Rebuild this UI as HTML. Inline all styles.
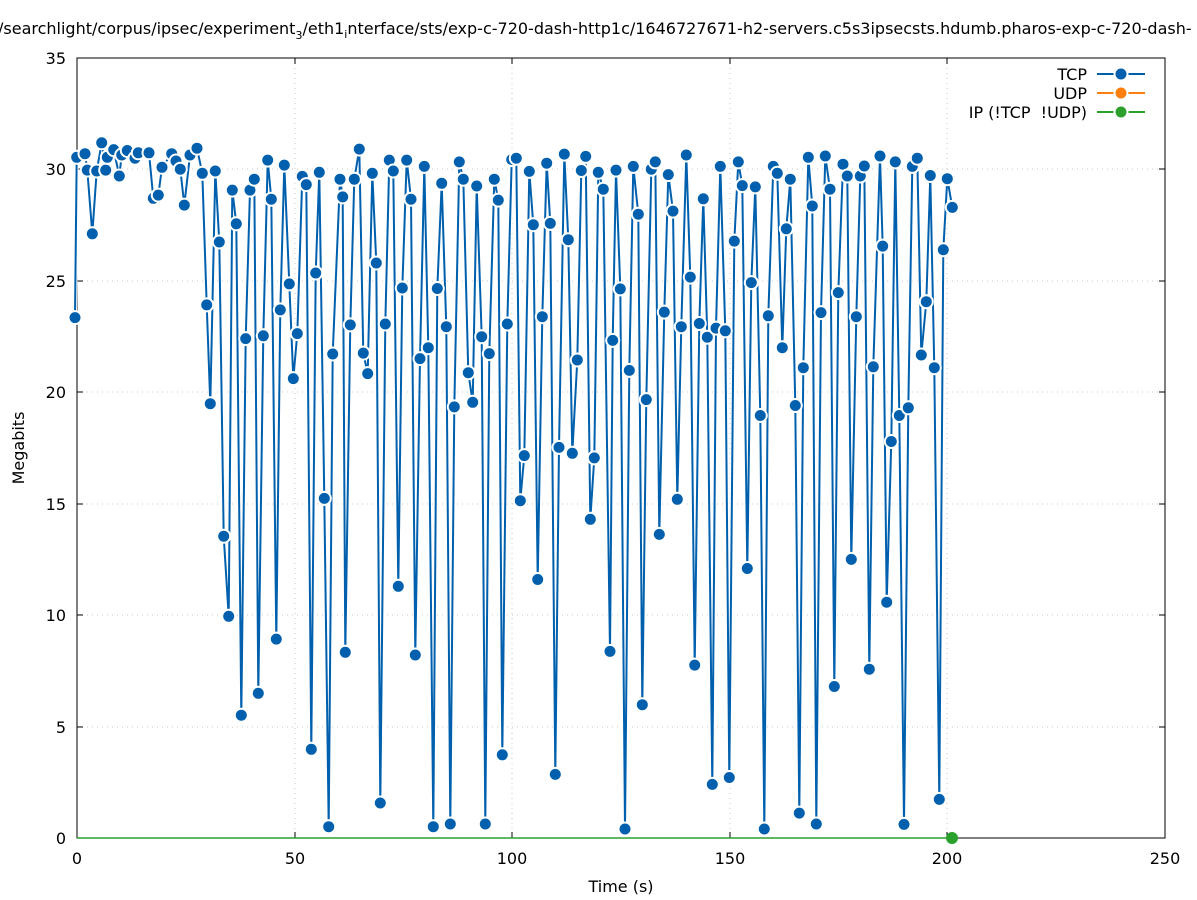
<!DOCTYPE html>
<html><head><meta charset="utf-8"><style>
html,body{margin:0;padding:0;background:#fff;width:1197px;height:900px;overflow:hidden}
svg{display:block}
text{font-family:"DejaVu Sans","Liberation Sans",sans-serif;font-size:16px;fill:#000}
</style></head><body>
<svg id="s" width="1197" height="900" viewBox="0 0 1197 900" xmlns="http://www.w3.org/2000/svg">
<rect width="1197" height="900" fill="#fff"/>
<g stroke="#c8c8c8" stroke-width="1" stroke-dasharray="1,4">
<line x1="77" y1="727" x2="1165" y2="727"/><line x1="77" y1="615" x2="1165" y2="615"/>
<line x1="77" y1="504" x2="1165" y2="504"/><line x1="77" y1="392" x2="1165" y2="392"/>
<line x1="77" y1="281" x2="1165" y2="281"/><line x1="77" y1="169" x2="1165" y2="169"/>
<line x1="295" y1="58" x2="295" y2="838"/><line x1="512" y1="58" x2="512" y2="838"/>
<line x1="730" y1="58" x2="730" y2="838"/><line x1="947" y1="58" x2="947" y2="838"/>
</g>
<g stroke="#000" stroke-width="1">
<rect x="77" y="58" width="1088" height="780" fill="none"/>
<line x1="77" y1="727" x2="83" y2="727"/><line x1="77" y1="615" x2="83" y2="615"/><line x1="77" y1="504" x2="83" y2="504"/><line x1="77" y1="392" x2="83" y2="392"/><line x1="77" y1="281" x2="83" y2="281"/><line x1="77" y1="169" x2="83" y2="169"/>
<line x1="1165" y1="727" x2="1159" y2="727"/><line x1="1165" y1="615" x2="1159" y2="615"/><line x1="1165" y1="504" x2="1159" y2="504"/><line x1="1165" y1="392" x2="1159" y2="392"/><line x1="1165" y1="281" x2="1159" y2="281"/><line x1="1165" y1="169" x2="1159" y2="169"/>
<line x1="295" y1="838" x2="295" y2="832"/><line x1="512" y1="838" x2="512" y2="832"/><line x1="730" y1="838" x2="730" y2="832"/><line x1="947" y1="838" x2="947" y2="832"/>
<line x1="295" y1="58" x2="295" y2="64"/><line x1="512" y1="58" x2="512" y2="64"/><line x1="730" y1="58" x2="730" y2="64"/><line x1="947" y1="58" x2="947" y2="64"/>
</g>
<g text-anchor="end">
<text x="66" y="844">0</text><text x="66" y="733">5</text><text x="66" y="621">10</text><text x="66" y="510">15</text><text x="66" y="398">20</text><text x="66" y="287">25</text><text x="66" y="175">30</text><text x="66" y="64">35</text>
</g>
<g text-anchor="middle">
<text x="77" y="864">0</text><text x="295" y="864">50</text><text x="512" y="864">100</text><text x="730" y="864">150</text><text x="947" y="864">200</text><text x="1165" y="864">250</text>
<text x="621" y="892">Time (s)</text>
</g>
<text transform="translate(24,448) rotate(-90)" text-anchor="middle">Megabits</text>
<text x="-2" y="34">/searchlight/corpus/ipsec/experiment<tspan font-size="11" dy="5">3</tspan><tspan dy="-5">/eth1</tspan><tspan font-size="11" dy="4">i</tspan><tspan dy="-4">nterface/sts/exp-c-720-dash-http1c/1646727671-h2-servers.c5s3ipsecsts.hdumb.pharos-exp-c-720-dash-</tspan></text>
<g text-anchor="end">
<text x="1087" y="80">TCP</text><text x="1087" y="99">UDP</text><text x="1087" y="118">IP (!TCP &#160;!UDP)</text>
</g>
<g stroke-width="2">
<line x1="1097" y1="74" x2="1145" y2="74" stroke="#0060ad"/>
<line x1="1097" y1="93" x2="1145" y2="93" stroke="#ff7f0e"/>
<line x1="1097" y1="112" x2="1145" y2="112" stroke="#2ca02c"/>
</g>
<g stroke="#fff" stroke-width="2">
<circle cx="1121" cy="74" r="6.5" fill="#0060ad"/>
<circle cx="1121" cy="93" r="6.5" fill="#ff7f0e"/>
<circle cx="1121" cy="112" r="6.5" fill="#2ca02c"/>
</g>
<line x1="77" y1="838" x2="952" y2="838" stroke="#2ca02c" stroke-width="1.5"/>
<g id="data"></g>
<circle cx="952" cy="838" r="6" fill="#2ca02c"/>
</svg>
<script>
var z1=[[15,412],[20,60],[45,52],[52,88],[67,228],[80,90],[95,28],[107,88],[112,60],[131,43],[148,101],[155,55],[172,45],[195,62],[205,50],[237,50],[250,150],[265,143],[276,82],[305,52],[318,68],[331,86],[343,165],[360,55],[381,40],[397,95],[410,384],[421,601],[436,90],[448,246],[461,892],[476,1068],[487,132],[499,206],[514,1285],[527,458],[540,132],[553,108],[565,1237],[580,452],[593,66],[604,152],[619,1118],[631,395],[643,77],[658,338],[670,546],[682,447],[697,102],[709,120],[724,1360],[737,314],[748,93],[763,809],[776,1530],[788,492]];
var z2=[[0,108],[8,147],[16,1147],[31,428],[43,108],[58,42],[70,490],[83,535],[97,95],[109,292],[121,1478],[136,426],[148,66],[160,90],[175,1002],[187,347],[200,66],[213,152],[226,1153],[240,502],[253,80],[265,478],[280,1530],[292,348],[305,117],[319,432],[331,1524],[343,608],[358,70],[370,108],[385,533],[398,598],[410,123],[425,454],[436,1524],[448,491],[463,108],[475,154],[487,1372],[502,426],[515,65],[529,62],[541,814],[553,715],[568,91],[580,208],[593,987],[607,410],[620,73],[631,205],[646,1415],[657,697],[673,53],[685,241],[697,710],[712,505],[724,89],[737,58],[751,855],[763,720],[775,93],[790,130]];
var z3=[[0,1145],[8,462],[18,88],[31,349],[45,1535],[58,528],[70,80],[85,185],[97,1262],[109,592],[124,86],[136,70],[148,888],[163,400],[175,98],[189,178],[202,811],[214,432],[229,55],[241,323],[254,1175],[268,425],[280,151],[292,455],[307,1437],[318,435],[331,80],[346,441],[358,1422],[373,244],[385,70],[397,122],[412,963],[424,335],[436,125],[451,627],[463,1535],[475,408],[490,80],[502,95],[517,478],[529,217],[541,108],[556,605],[568,1500],[580,522],[595,60],[607,167],[619,1524],[633,401],[646,57],[660,130],[673,1222],[685,357],[699,75],[712,101],[724,943],[739,410],[751,101],[763,79],[778,1184],[790,520]];
var z4=[[0,57],[8,255],[20,1037],[34,684],[46,70],[58,627],[72,1525],[85,610],[97,80],[112,62],[124,494],[139,377],[151,100],[163,522],[178,1470],[190,263],[202,107],[217,170]];
var pts=[];
function add(a,off){a.forEach(function(p){pts.push([off+p[0]/3,Math.min(838,130+p[1]/2.196)]);});}
add(z1,70);add(z2,340);add(z3,610);add(z4,880);
var ns="http://www.w3.org/2000/svg",g=document.getElementById("data");
var d=pts.map(function(p,i){return (i?"L":"M")+p[0].toFixed(1)+","+p[1].toFixed(1);}).join("");
var pw=document.createElementNS(ns,"path");pw.setAttribute("d",d);pw.setAttribute("fill","none");pw.setAttribute("stroke","#fff");pw.setAttribute("stroke-width","4");pw.setAttribute("stroke-linejoin","round");g.appendChild(pw);
var pa=document.createElementNS(ns,"path");pa.setAttribute("d",d);pa.setAttribute("fill","none");pa.setAttribute("stroke","#0060ad");pa.setAttribute("stroke-width","2");g.appendChild(pa);
pts.forEach(function(p){var c=document.createElementNS(ns,"circle");c.setAttribute("cx",p[0].toFixed(1));c.setAttribute("cy",p[1].toFixed(1));c.setAttribute("r","6.5");c.setAttribute("fill","#0060ad");c.setAttribute("stroke","#fff");c.setAttribute("stroke-width","2");g.appendChild(c);});
</script>
</body></html>
